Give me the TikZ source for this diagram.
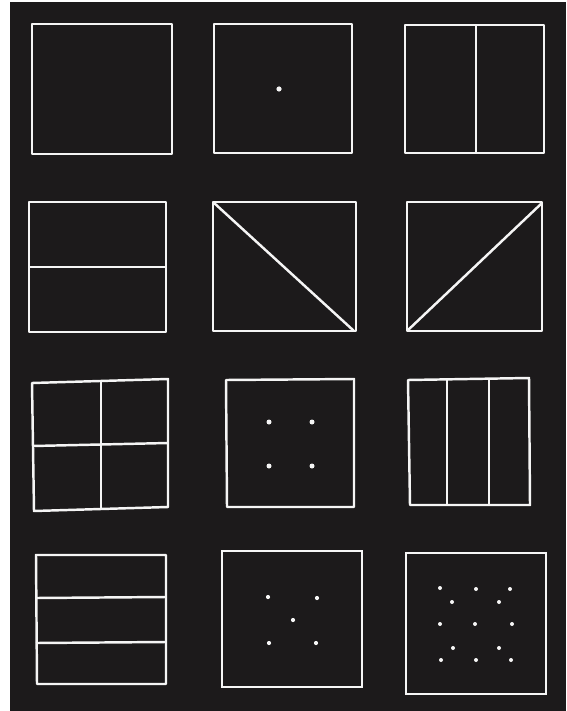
\documentclass[tikz,border=0pt]{standalone}
\usepackage{tikz}
\definecolor{boardbg}{RGB}{28,26,27}
\definecolor{chalk}{RGB}{245,245,245}

\begin{document}
\begin{tikzpicture}[
  x=0.03cm, y=-0.03cm,
  sq/.style={draw=chalk, line width=2.1pt, line join=round},
  thinsq/.style={draw=chalk!85, line width=1.3pt},
  bigdot/.style={fill=chalk, draw=none},
  smalldot/.style={fill=chalk!90, draw=none},
]

% Canvas
\useasboundingbox (0,0) rectangle (566,711);
\fill[white] (0,0) rectangle (566,711);
\fill[boardbg] (10,2) rectangle (566,711);

% Row 1
\draw[sq] (32,24) rectangle (172,154);
\draw[sq] (214,24) rectangle (352,153);
\fill[bigdot] (279,89) circle (2.6);
\draw[sq] (405,25) rectangle (544,153);
\draw[sq] (476,25) -- (476,153);

% Row 2
\draw[sq] (29,202) rectangle (166,332);
\draw[sq] (29,267) -- (166,267);
\draw[sq] (213,202) rectangle (356,331);
\draw[sq] (213,202) -- (354,331);
\draw[sq] (407,202) rectangle (542,331);
\draw[sq] (407,331) -- (542,203);

% Row 3
\draw[sq] (32,383) -- (168,379) -- (168,507) -- (34,511) -- cycle;
\draw[sq] (101,381) -- (101,509);
\draw[sq] (33,446) -- (168,443);
\draw[sq] (226,380) -- (354,379) -- (354,507) -- (227,507) -- cycle;
\foreach \px/\py in {269/422, 312/422, 269/466, 312/466}
  \fill[bigdot] (\px,\py) circle (2.5);
\draw[sq] (408,380) -- (529,378) -- (530,505) -- (410,505) -- cycle;
\draw[sq] (447,379) -- (447,505);
\draw[sq] (489,378) -- (489,505);

% Row 4
\draw[sq] (36,555) -- (166,555) -- (166,684) -- (37,684) -- cycle;
\draw[sq] (36,598) -- (166,597);
\draw[sq] (36,643) -- (166,642);
\draw[thinsq] (222,551) rectangle (362,687);
\foreach \px/\py in {268/597, 317/598, 293/620, 269/643, 316/643}
  \fill[smalldot] (\px,\py) circle (2.1);
\draw[thinsq] (406,553) rectangle (546,694);
\foreach \px/\py in {440/588, 476/589, 510/589, 452/602, 499/602,
                    440/624, 475/624, 512/624, 453/648, 499/648,
                    441/660, 476/660, 511/660}
  \fill[smalldot] (\px,\py) circle (2.0);

\end{tikzpicture}
\end{document}
